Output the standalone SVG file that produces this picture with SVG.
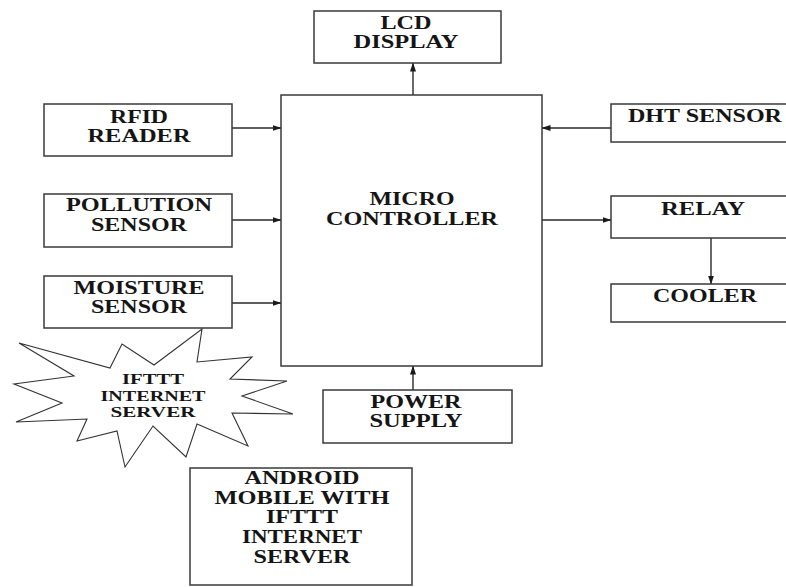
<svg xmlns="http://www.w3.org/2000/svg" width="786" height="587" viewBox="0 0 786 587">
<defs>
<style>
.box{fill:#fff;stroke:#3a3a3a;stroke-width:1.5}
.lbl{font-family:"Liberation Serif","Times New Roman",serif;font-weight:bold;font-size:18px;fill:#151515;text-anchor:middle}
.sl{font-size:15px}
.conn{stroke:#2a2a2a;stroke-width:1.4;fill:none;marker-end:url(#ah)}
</style>
<marker id="ah" markerWidth="9" markerHeight="7" refX="8.5" refY="3.5" orient="auto" markerUnits="userSpaceOnUse">
<path d="M0,0.5 L9,3.5 L0,6.5 z" fill="#1a1a1a"/>
</marker>
</defs>
<rect width="786" height="587" fill="#fff"/>

<g id="connectors">
<line class="conn" x1="232" y1="128" x2="281" y2="128"/>
<line class="conn" x1="232" y1="220" x2="281" y2="220"/>
<line class="conn" x1="232" y1="303" x2="281" y2="303"/>
<line class="conn" x1="413" y1="95" x2="413" y2="63"/>
<line class="conn" x1="611" y1="128" x2="542" y2="128"/>
<line class="conn" x1="542" y1="220" x2="611" y2="220"/>
<line class="conn" x1="711" y1="238" x2="711" y2="284"/>
<line class="conn" x1="413" y1="390" x2="413" y2="366"/>
</g>

<g id="lcd">
<rect class="box" x="314" y="11" width="187" height="52"/>
<text class="lbl" x="406" y="29" textLength="51" lengthAdjust="spacingAndGlyphs">LCD</text>
<text class="lbl" x="406" y="48" textLength="105" lengthAdjust="spacingAndGlyphs">DISPLAY</text>
</g>

<g id="microcontroller">
<rect class="box" x="281" y="95" width="261" height="271"/>
<text class="lbl" x="412" y="205" textLength="85" lengthAdjust="spacingAndGlyphs">MICRO</text>
<text class="lbl" x="412" y="225" textLength="172" lengthAdjust="spacingAndGlyphs">CONTROLLER</text>
</g>

<g id="rfid">
<rect class="box" x="44" y="104" width="188" height="52"/>
<text class="lbl" x="139" y="123" textLength="58" lengthAdjust="spacingAndGlyphs">RFID</text>
<text class="lbl" x="139" y="142" textLength="103" lengthAdjust="spacingAndGlyphs">READER</text>
</g>

<g id="pollution">
<rect class="box" x="44" y="194" width="188" height="53"/>
<text class="lbl" x="139" y="211" textLength="146" lengthAdjust="spacingAndGlyphs">POLLUTION</text>
<text class="lbl" x="139" y="231" textLength="96" lengthAdjust="spacingAndGlyphs">SENSOR</text>
</g>

<g id="moisture">
<rect class="box" x="44" y="276" width="188" height="52"/>
<text class="lbl" x="139" y="294" textLength="131" lengthAdjust="spacingAndGlyphs">MOISTURE</text>
<text class="lbl" x="139" y="313" textLength="96" lengthAdjust="spacingAndGlyphs">SENSOR</text>
</g>

<g id="dht">
<rect class="box" x="611" y="104" width="190" height="38"/>
<text class="lbl" x="705" y="122" textLength="154" lengthAdjust="spacingAndGlyphs">DHT SENSOR</text>
</g>

<g id="relay">
<rect class="box" x="611" y="196" width="190" height="42"/>
<text class="lbl" x="703" y="215" textLength="84" lengthAdjust="spacingAndGlyphs">RELAY</text>
</g>

<g id="cooler">
<rect class="box" x="611" y="284" width="190" height="38"/>
<text class="lbl" x="705" y="302" textLength="104" lengthAdjust="spacingAndGlyphs">COOLER</text>
</g>

<g id="power">
<rect class="box" x="323" y="390" width="189" height="53"/>
<text class="lbl" x="416" y="408" textLength="91" lengthAdjust="spacingAndGlyphs">POWER</text>
<text class="lbl" x="416" y="427" textLength="93" lengthAdjust="spacingAndGlyphs">SUPPLY</text>
</g>

<g id="ifttt-server">
<polygon fill="#fff" stroke="#333" stroke-width="1.1" points="202,329 197,362 252,357 230,379 287,381 242,396 293,414 232,413 248,446 197,424 186,457 153,426 125,467 117,431 77,441 87,419 16,422 62,403 14,384 74,376 19,343 110,368 122,344 154,365"/>
<text class="lbl sl" x="153" y="384" textLength="62" lengthAdjust="spacingAndGlyphs">IFTTT</text>
<text class="lbl sl" x="153" y="401" textLength="105" lengthAdjust="spacingAndGlyphs">INTERNET</text>
<text class="lbl sl" x="153" y="417" textLength="85" lengthAdjust="spacingAndGlyphs">SERVER</text>
</g>

<g id="android">
<rect class="box" x="190" y="468" width="222" height="117" stroke-width="2"/>
<text class="lbl" x="302" y="484" textLength="115" lengthAdjust="spacingAndGlyphs">ANDROID</text>
<text class="lbl" x="302" y="504" textLength="175" lengthAdjust="spacingAndGlyphs">MOBILE WITH</text>
<text class="lbl" x="302" y="523" textLength="72" lengthAdjust="spacingAndGlyphs">IFTTT</text>
<text class="lbl" x="302" y="543" textLength="120" lengthAdjust="spacingAndGlyphs">INTERNET</text>
<text class="lbl" x="302" y="563" textLength="97" lengthAdjust="spacingAndGlyphs">SERVER</text>
</g>
</svg>
